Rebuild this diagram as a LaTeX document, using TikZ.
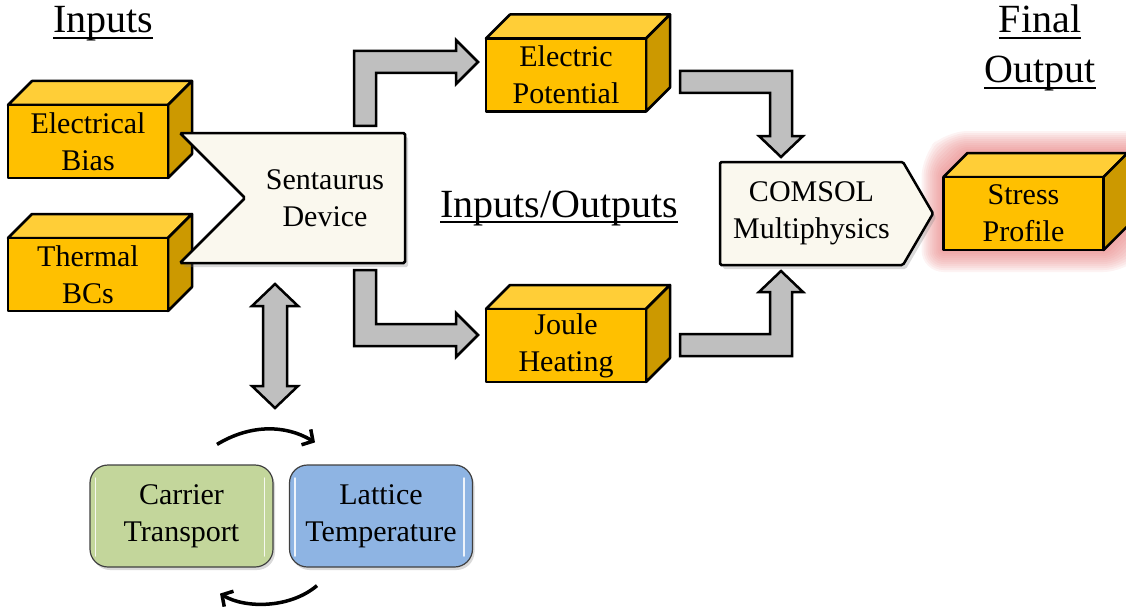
\documentclass[tikz,border=0pt]{standalone}
\usepackage{fontspec}
\setmainfont{Liberation Serif}
\usepackage{tikz}
\usetikzlibrary{arrows.meta,positioning,calc,shadows,backgrounds}
\definecolor{cubefront}{RGB}{255,192,0}
\definecolor{cubetop}{RGB}{255,206,55}
\definecolor{cubeside}{RGB}{204,153,0}
\definecolor{arrowgray}{RGB}{191,191,191}
\definecolor{toolcream}{RGB}{250,248,238}
\definecolor{carriergreen}{RGB}{195,214,155}
\definecolor{latticeblue}{RGB}{142,180,227}
\definecolor{glowred}{RGB}{230,120,120}
\newcommand{\boxfont}{\fontsize{30}{37}\selectfont}
\newcommand{\headfont}{\fontsize{40}{50}\selectfont}
\newcommand{\headrule}[1]{\setbox0=\hbox{#1}\rlap{\rule[-6pt]{\wd0}{1.8pt}}\box0}
% top and right faces of a cube whose front face is node #1
\newcommand{\cubefaces}[1]{%
  \draw[cubeline, fill=cubetop] (#1.north west) -- ++(24,-24) -- ($(#1.north east)+(24,-24)$) -- (#1.north east) -- cycle;
  \draw[cubeline, fill=cubeside] (#1.north east) -- ++(24,-24) -- ($(#1.south east)+(24,-24)$) -- (#1.south east) -- cycle;}

\begin{document}
\begin{tikzpicture}[x=1pt, y=-1pt,
  cubeline/.style={draw=black, line width=2.5pt, line join=round},
  cube/.style={cubeline, fill=cubefront, minimum width=160pt, minimum height=73pt, outer sep=0pt, align=center, font=\boxfont},
  tool/.style={outer sep=0pt, inner sep=0pt, align=center, font=\boxfont},
  toolline/.style={draw=black, line width=2.5pt, fill=toolcream, rounded corners=1.5pt,
    drop shadow={shadow xshift=3pt, shadow yshift=-4pt, opacity=0.3}},
  loopbox/.style={draw=black!75, line width=1.2pt, rounded corners=18pt, minimum width=183pt, minimum height=102pt,
    align=center, font=\boxfont, drop shadow={shadow xshift=2pt, shadow yshift=-3pt, opacity=0.3}},
  gloss/.style={white, line width=1.5pt, line cap=round, opacity=0.85},
  blockarrow/.style={draw=black, fill=arrowgray, line width=2.5pt, line join=miter},
  cyclearrow/.style={line width=3.5pt, -{Straight Barb[length=8pt, width=18pt]}},
  headtext/.style={inner sep=0pt, font=\headfont}]
\useasboundingbox (0,0) rectangle (1126,607);

% headings
\node[headtext, anchor=base] (inputs) at (103,33) {\headrule{Inputs}};
\node[headtext, anchor=base] (midhead) at (559,217) {\headrule{Inputs/Outputs}};
\node[headtext, anchor=base, align=center] (finalhead) at (1040,83) {\headrule{Final}\\\headrule{Output}};

% boxes
\node[cube] (bias) at (88,141.5) {Electrical\\Bias};
\node[cube] (bcs) at (88,274.5) {Thermal\\BCs};
\node[tool, minimum width=160pt, minimum height=130pt] (sent) at (325,198) {Sentaurus\\Device};
\node[cube] (epot) at (566,75) {Electric\\Potential};
\node[cube] (joule) at (566,345.5) {Joule\\Heating};
\node[tool, minimum width=183pt, minimum height=103pt] (comsol) at (811.5,213.5) {COMSOL\\Multiphysics};
\node[cube] (stress) at (1023.5,213.5) {Stress\\Profile};
\node[loopbox, fill=carriergreen] (carrier) at (181.5,516) {Carrier\\Transport};
\node[loopbox, fill=latticeblue] (lattice) at (381,516) {Lattice\\Temperature};

\begin{scope}[on background layer]
  \foreach \g in {22,20,...,2}
    \fill[glowred, opacity=0.09, rounded corners=\g pt] ($(stress.south west)+(-\g,\g)$) -- ($(stress.north west)+(-\g,-\g)$)
      -- ($(stress.north west)+(24-\g,-24-\g)$) -- ($(stress.north east)+(24+\g,-24-\g)$)
      -- ($(stress.south east)+(24+\g,-24+\g)$) -- ($(stress.south east)+(\g,\g)$) -- cycle;
  \cubefaces{bias}
  \cubefaces{bcs}
  \cubefaces{epot}
  \cubefaces{joule}
  \cubefaces{stress}
  \draw[toolline] ($(sent.north west)+(-65,0)$) -- (sent.north east) -- (sent.south east) -- ($(sent.south west)+(-65,0)$) -- (sent.west) -- cycle;
  \draw[toolline] (comsol.north west) -- (comsol.north east) -- ($(comsol.east)+(30,0)$) -- (comsol.south east) -- (comsol.south west) -- cycle;
\end{scope}

\foreach \b in {carrier,lattice} {
  \draw[gloss] ($(\b.west)+(6,-38)$) -- ($(\b.west)+(6,40)$);
  \draw[gloss] ($(\b.east)+(-9,-38)$) -- ($(\b.east)+(-9,40)$);
}

% block arrows
\coordinate (upstart) at ($(sent.north east)+(-40,-7)$);
\coordinate (uptip) at ($(epot.west)+(-8,-13)$);
\draw[blockarrow] ($(upstart)+(-11,0)$) -- ($(upstart|-uptip)+(-11,-11)$) -- ($(uptip)+(-22,-11)$) -- ($(uptip)+(-22,-22)$) -- (uptip)
  -- ($(uptip)+(-22,22)$) -- ($(uptip)+(-22,11)$) -- ($(upstart|-uptip)+(11,11)$) -- ($(upstart)+(11,0)$) -- cycle;

\coordinate (downstart) at ($(sent.south east)+(-40,7)$);
\coordinate (downtip) at ($(joule.west)+(-8,-10.5)$);
\draw[blockarrow] ($(downstart)+(-11,0)$) -- ($(downstart|-downtip)+(-11,11)$) -- ($(downtip)+(-22,11)$) -- ($(downtip)+(-22,22)$) -- (downtip)
  -- ($(downtip)+(-22,-22)$) -- ($(downtip)+(-22,-11)$) -- ($(downstart|-downtip)+(11,-11)$) -- ($(downstart)+(11,0)$) -- cycle;

\coordinate (potstart) at ($(epot.east)+(34,7)$);
\coordinate (pottip) at ($(comsol.north)+(-30.5,-5)$);
\draw[blockarrow] ($(potstart)+(0,-11)$) -- ($(pottip|-potstart)+(11,-11)$) -- ($(pottip)+(11,-21)$) -- ($(pottip)+(22,-21)$) -- (pottip)
  -- ($(pottip)+(-22,-21)$) -- ($(pottip)+(-11,-21)$) -- ($(pottip|-potstart)+(-11,11)$) -- ($(potstart)+(0,11)$) -- cycle;

\coordinate (heatstart) at ($(joule.east)+(34,-0.5)$);
\coordinate (heattip) at ($(comsol.south)+(-30.5,6)$);
\draw[blockarrow] ($(heatstart)+(0,11)$) -- ($(heattip|-heatstart)+(11,11)$) -- ($(heattip)+(11,21)$) -- ($(heattip)+(22,21)$) -- (heattip)
  -- ($(heattip)+(-22,21)$) -- ($(heattip)+(-11,21)$) -- ($(heattip|-heatstart)+(-11,-11)$) -- ($(heatstart)+(0,-11)$) -- cycle;

\coordinate (dtop) at ($(sent.south west)+(30,21)$);
\coordinate (dbot) at ($(dtop)+(0,124)$);
\draw[blockarrow] (dtop) -- ($(dtop)+(23,22)$) -- ($(dtop)+(12,22)$) -- ($(dbot)+(12,-22)$) -- ($(dbot)+(23,-22)$) -- (dbot)
  -- ($(dbot)+(-23,-22)$) -- ($(dbot)+(-12,-22)$) -- ($(dtop)+(-12,22)$) -- ($(dtop)+(-23,22)$) -- cycle;

% coupling loop
\draw[cyclearrow] ($(carrier.north)+(35.5,-20)$) .. controls +(33,-20) and +(-30,-18) .. ($(lattice.north)+(-66,-22)$);
\draw[cyclearrow] ($(lattice.south)+(-64,18)$) .. controls +(-27,23) and +(25,15) .. ($(carrier.south)+(38.5,26)$);
\end{tikzpicture}
\end{document}
